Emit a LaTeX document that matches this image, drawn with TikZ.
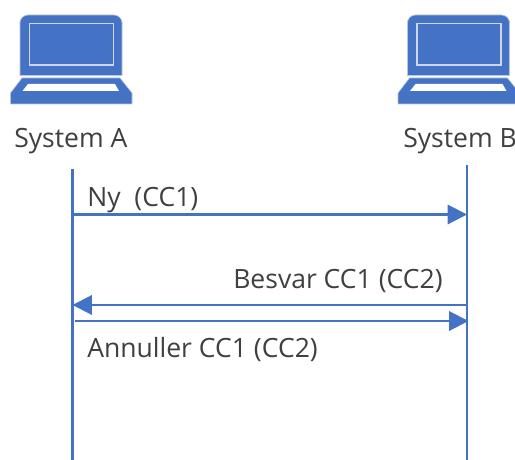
\documentclass[tikz,border=0pt]{standalone}
\usepackage{fontspec}
\setmainfont{Open Sans}
\usetikzlibrary{arrows.meta}
\definecolor{lapblue}{HTML}{4472C4}
\definecolor{lapedge}{HTML}{B9C4D6}
\definecolor{txt}{HTML}{404040}
\tikzset{
  x=0.75pt,y=-0.75pt,
  lbl/.style={inner sep=0pt,text=txt,font=\fontsize{19.9}{22}\selectfont,anchor=base west},
  lifeline/.style={draw=lapblue,line width=1.6pt},
  msg/.style={draw=lapblue,line width=1.6pt,-{Triangle[length=14.5pt,width=14.5pt,fill=lapblue]}},
  laptop/.pic={
    \fill[lapblue,draw=lapedge,line width=0.5pt]
      (20,75.5) -- (20,21) [rounded corners=6pt] -- (20,15) -- (122,15) [sharp corners] -- (122,21) -- (122,75.5) -- cycle;
    \draw[draw=lapedge!70!white,line width=1pt] (29.5,23.5) rectangle (113.5,65);
    \fill[lapblue,draw=lapedge,line width=0.5pt]
      (10.5,104) -- (10.5,93) -- (22,78) -- (120,78) -- (132,93) -- (132,104) -- cycle;
    \fill[white] (22.5,91) -- (28,84) -- (115,84) -- (119,91) -- cycle;
  },
}
\begin{document}
\begin{tikzpicture}
\useasboundingbox (0,0) rectangle (515,460);
\clip (0,0) rectangle (515,460);
\fill[white] (0,0) rectangle (515,460);
\pic at (0,0) {laptop};
\pic at (387.5,0) {laptop};
\node[lbl] (sysA) at (14,147) {System A};
\node[lbl] (sysB) at (403,147) {System B};
\coordinate (aTop) at (72.5,169);
\coordinate (aBot) at (72.5,460);
\coordinate (bTop) at (467,165);
\coordinate (bBot) at (467,460);
\draw[lifeline] (aTop) -- (aBot);
\draw[lifeline] (bTop) -- (bBot);
\coordinate (m1s) at (72.5,214.5);
\coordinate (m1e) at (467,214.5);
\coordinate (m2s) at (467,305);
\coordinate (m2e) at (72.5,305);
\coordinate (m3s) at (75,321);
\coordinate (m3e) at (468.5,321);
\draw[msg] (m1s) -- (m1e);
\draw[msg] (m2s) -- (m2e);
\draw[msg] (m3s) -- (m3e);
\node[lbl] (ny) at (87,207) {Ny\ \ (CC1)};
\node[lbl] (besvar) at (233,288) {Besvar CC1 (CC2)};
\node[lbl] (annuller) at (87,357) {Annuller CC1 (CC2)};
\end{tikzpicture}
\end{document}
